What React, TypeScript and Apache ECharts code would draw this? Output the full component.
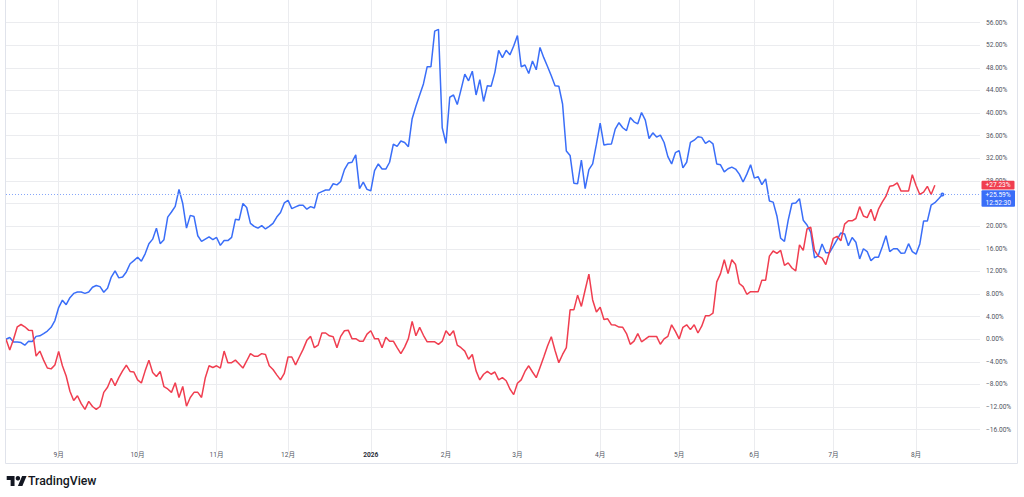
import React, { useEffect, useRef } from "react";
import * as echarts from "echarts";

// Trading-day performance (%)
const blueValues: number[] = [
  0.0, 0.3, -0.5, -0.5, -0.6, -1.05, -0.35, -0.4, 0.5, 0.6,
  1.0, 1.45, 2.1, 3.3, 5.6, 6.9, 6.1, 7.35, 8.1, 8.35,
  8.35, 8.1, 8.35, 9.2, 9.5, 9.3, 8.3, 9.0, 11.0, 12.1,
  10.85, 11.0, 11.9, 13.35, 13.9, 14.5, 13.8, 15.1, 16.9, 17.7,
  19.65, 16.9, 17.6, 21.6, 22.5, 23.5, 26.5, 24.0, 19.65, 21.9,
  21.7, 18.3, 17.3, 17.7, 18.1, 17.6, 18.0, 16.6, 17.45, 17.45,
  18.0, 21.2, 21.1, 24.0, 23.3, 20.5, 19.95, 19.65, 20.1, 19.5,
  19.95, 20.5, 21.6, 22.4, 24.1, 24.55, 23.1, 23.4, 23.7, 23.7,
  23.0, 23.45, 23.2, 25.8, 26.1, 26.4, 26.4, 27.5, 27.3, 27.9,
  30.0, 31.15, 31.3, 32.6, 26.65, 27.8, 26.5, 26.25, 29.8, 31.0,
  30.1, 30.1, 31.3, 34.5, 34.1, 35.05, 34.8, 34.05, 39.0, 41.2,
  43.2, 45.15, 48.2, 48.2, 54.5, 54.8, 37.4, 34.65, 42.8, 43.2,
  41.5, 44.15, 46.9, 45.7, 47.4, 43.2, 45.9, 42.05, 44.85, 44.75,
  47.2, 51.1, 49.8, 51.1, 50.3, 51.85, 53.7, 48.2, 48.5, 47.0,
  49.2, 47.65, 51.6, 49.8, 48.25, 46.6, 44.85, 44.75, 41.6, 33.3,
  32.5, 27.6, 27.5, 31.7, 26.65, 30.0, 31.0, 34.5, 38.2, 34.35,
  34.5, 34.55, 37.15, 38.3, 37.4, 36.9, 39.2, 38.45, 38.1, 40.1,
  38.75, 35.5, 36.5, 35.75, 36.1, 34.8, 32.3, 31.0, 33.0, 33.35,
  30.3, 31.3, 34.8, 35.2, 35.8, 35.7, 34.65, 35.1, 34.55, 31.0,
  30.85, 29.6, 30.15, 30.45, 30.1, 29.2, 27.8, 29.2, 30.85, 28.5,
  28.75, 27.35, 28.35, 24.45, 24.25, 21.8, 17.85, 17.3, 21.05, 24.0,
  24.1, 24.85, 21.05, 20.2, 18.9, 14.4, 14.8, 16.85, 15.3, 15.3,
  16.45, 17.6, 18.8, 18.6, 16.55, 18.0, 17.15, 14.2, 16.0, 15.5,
  13.9, 14.5, 14.5, 16.3, 18.3, 15.5, 16.0, 16.0, 15.2, 15.25,
  16.9, 15.5, 15.05, 16.85, 20.9, 20.9, 23.7, 24.15, 24.85, 25.59,
];

const redValues: number[] = [
  0, -1.9, 0, 2.2, 2.6, 2.2, 1.6, 1.55, -3.0, -2.1,
  -3.7, -5.1, -5.25, -4.55, -2.15, -4.7, -6.5, -9.2, -10.85, -10.0,
  -11.4, -12.4, -11.0, -11.9, -12.4, -11.9, -9.4, -8.5, -6.9, -8.2,
  -6.8, -5.6, -4.6, -5.7, -5.8, -7.2, -7.75, -5.6, -3.7, -5.9,
  -6.6, -5.7, -8.4, -8.8, -9.4, -7.7, -10.3, -8.35, -11.85, -10.3,
  -9.4, -9.4, -10.3, -6.8, -4.7, -5.0, -4.7, -5.1, -2.1, -4.15,
  -4.15, -3.7, -4.4, -5.1, -3.85, -2.55, -3.0, -3.0, -2.55, -2.7,
  -4.7, -5.35, -6.3, -7.2, -6.05, -3.15, -3.15, -4.55, -3.15, -1.8,
  -0.2, 0.5, -1.5, -1.05, 1.1, 1.1, 0.6, 0.45, -1.5, 0.5,
  1.5, 1.6, 0.1, 0.1, -0.35, -0.35, 0.9, 1.5, 0.1, 0.1,
  -1.5, 0.35, -0.35, -0.35, -1.5, -2.55, -1.4, 0.1, 3.15, 0.6,
  2.1, 0.7, -0.45, -0.45, -0.45, -0.9, -0.35, 1.5, 0.65, 1.5,
  -1.05, -1.5, -2.1, -3.55, -2.7, -5.6, -7.2, -6.2, -5.7, -6.2,
  -5.8, -7.2, -6.8, -7.35, -8.8, -9.8, -7.8, -7.2, -5.7, -4.7,
  -5.8, -6.8, -5.0, -3.15, -1.2, 0.45, -2.0, -4.15, -2.7, -1.5,
  5.2, 5.2, 7.8, 5.8, 8.7, 11.5, 6.95, 4.8, 5.65, 3.5,
  3.6, 2.55, 2.5, 2.15, 2.1, 1.0, -0.9, -0.35, 1.0, -0.45,
  0, 0.5, 0.5, 0.5, -0.9, 0.05, 0.5, 2.55, 1.4, 0.05,
  2.1, 2.55, 1.7, 2.55, 1.1, 2.3, 4.15, 4.15, 4.6, 10.15,
  11.6, 14.05, 11.6, 14.05, 13.2, 9.85, 9.3, 7.95, 8.4, 8.4,
  8.4, 10.45, 10.45, 14.7, 15.6, 15.2, 15.7, 13.05, 13.5, 12.6,
  12.1, 16.7, 15.7, 19.5, 19.8, 15.7, 14.7, 14.35, 13.2, 15.5,
  17.85, 18.2, 17.4, 20.35, 20.95, 20.95, 21.35, 23.45, 21.8, 21.5,
  23.0, 20.95, 23.0, 24.25, 25.3, 27.05, 27.2, 27.65, 26.2, 26.2,
  26.2, 29.1, 27.2, 25.6, 26.0, 27.05, 25.6, 27.23,
];

// Month boundaries (trading-day index) and their labels
const monthTickIndex: number[] = [14, 35, 56, 75, 97, 117, 136, 158, 179, 199, 220, 242];
const monthTickLabels: string[] = ["9月", "10月", "11月", "12月", "2026", "2月", "3月", "4月", "5月", "6月", "7月", "8月"];
const yearLabels: string[] = ["2026"];
const categoryCount = 260; // includes empty right margin bars
const categories: string[] = Array.from({ length: categoryCount }, (_, i) => String(i));
const blueTime = "12:52:30";

const BLUE = "#3a6ef8";
const RED = "#f03e50";
const GRID = "#ebecef";
const TEXT = "#50535e";
const FONT = "Roboto, 'Noto Sans CJK JP', sans-serif";

function fmtPct(v: number): string {
  const s = Math.abs(v).toFixed(2) + "%";
  return v < 0 ? "\u2212" + s : s;
}

export default function App() {
  const ref = useRef<HTMLDivElement>(null);

  useEffect(() => {
    if (!ref.current) return;
    const chart = echarts.init(ref.current, null, { renderer: "svg" });
    const tickSet = new Set(monthTickIndex);
    const blueLast = blueValues[blueValues.length - 1];
    const redLast = redValues[redValues.length - 1];

    const blueData: any[] = blueValues.map((v, i) =>
      i === blueValues.length - 1
        ? { value: v, symbol: "circle", symbolSize: 4, itemStyle: { color: BLUE } }
        : v
    );

    chart.setOption({
      animation: false,
      backgroundColor: "#ffffff",
      textStyle: { fontFamily: FONT },
      grid: { left: 6, right: 44, top: -4.86, height: 457.14 },
      xAxis: {
        type: "category",
        data: categories,
        boundaryGap: false,
        axisLine: { show: false },
        axisTick: { show: false },
        axisLabel: {
          interval: (index: number) => tickSet.has(index),
          formatter: (value: string) => {
            const k = monthTickIndex.indexOf(Number(value));
            if (k < 0) return "";
            const lab = monthTickLabels[k];
            return yearLabels.includes(lab) ? "{b|" + lab + "}" : lab;
          },
          color: TEXT,
          fontSize: 6.6,
          margin: -1,
          fontFamily: FONT,
          rich: { b: { fontWeight: "bold", fontSize: 6.6, color: "#2a2e39", fontFamily: FONT } },
        },
        splitLine: {
          show: true,
          interval: (index: number) => tickSet.has(index),
          lineStyle: { color: GRID, width: 1 },
        },
      },
      yAxis: {
        type: "value",
        position: "right",
        min: -20,
        max: 60,
        interval: 4,
        axisLine: { show: false },
        axisTick: { show: false },
        axisLabel: {
          showMinLabel: false,
          showMaxLabel: false,
          formatter: (v: number) => fmtPct(v),
          color: TEXT,
          fontSize: 6.6,
          margin: 6,
          fontFamily: FONT,
        },
        splitLine: {
          show: true,
          showMinLine: false,
          showMaxLine: false,
          lineStyle: { color: GRID, width: 1 },
        },
      },
      series: [
        {
          type: "line",
          data: blueData,
          symbol: "none",
          showAllSymbol: true,
          lineStyle: { color: BLUE, width: 1.5 },
          itemStyle: { color: BLUE },
          z: 3,
          markLine: {
            silent: true,
            symbol: "none",
            label: { show: false },
            lineStyle: { color: "#86a6f9", type: [1, 2], width: 1 },
            data: [{ yAxis: blueLast }],
          },
        },
        {
          type: "line",
          data: redValues,
          symbol: "none",
          lineStyle: { color: RED, width: 1.5 },
          itemStyle: { color: RED },
          z: 4,
        },
      ],
    });

    const yR = chart.convertToPixel({ yAxisIndex: 0 }, redLast) as number;
    const yB = chart.convertToPixel({ yAxisIndex: 0 }, blueLast) as number;
    const blueTop = yB - 4.3;
    const blueBottom = yB + 12.3;
    const border = "#e0e3eb";
    const badgeX = 981.5;

    // scale labels hidden behind the two-line last-value badge
    chart.setOption({
      yAxis: {
        axisLabel: {
          formatter: (v: number) => {
            const py = chart.convertToPixel({ yAxisIndex: 0 }, v) as number;
            if (py > blueTop - 1 && py < blueBottom + 1) return "";
            return fmtPct(v);
          },
        },
      },
    });

    chart.setOption({
      graphic: [
        { id: "bl", type: "line", z: 100, shape: { x1: 5.5, y1: 0, x2: 5.5, y2: 463.5 }, style: { stroke: border, lineWidth: 1 } },
        { id: "bb", type: "line", z: 100, shape: { x1: 5.5, y1: 463.5, x2: 1017.5, y2: 463.5 }, style: { stroke: border, lineWidth: 1 } },
        { id: "br", type: "line", z: 100, shape: { x1: 1017.5, y1: 0, x2: 1017.5, y2: 463.5 }, style: { stroke: border, lineWidth: 1 } },
        { id: "rr", type: "rect", z: 101, shape: { x: badgeX, y: yR - 4.4, width: 33, height: 8.6, r: 1 }, style: { fill: RED } },
        {
          id: "rt", type: "text", z: 102,
          style: { text: "+" + redLast.toFixed(2) + "%", x: 985.5, y: yR, fill: "#ffffff", font: "6.6px Roboto", verticalAlign: "middle", align: "left" },
        },
        { id: "br2", type: "rect", z: 101, shape: { x: badgeX, y: blueTop, width: 33.5, height: blueBottom - blueTop, r: 1 }, style: { fill: BLUE } },
        {
          id: "bt1", type: "text", z: 102,
          style: { text: "+" + blueLast.toFixed(2) + "%", x: 985.5, y: yB, fill: "#ffffff", font: "6.6px Roboto", verticalAlign: "middle", align: "left" },
        },
        {
          id: "bt2", type: "text", z: 102,
          style: { text: blueTime, x: 985.5, y: yB + 8.1, fill: "#ffffff", font: "6.6px Roboto", verticalAlign: "middle", align: "left" },
        },
        {
          id: "logo", type: "group", x: 6.7, y: 473.8, scaleX: 0.56, scaleY: 0.56, z: 100,
          children: [
            { type: "polygon", shape: { points: [[0, 4], [14, 4], [14, 22], [7, 22], [7, 11], [0, 11]] }, style: { fill: "#131722" } },
            { type: "circle", shape: { cx: 20, cy: 8, r: 4 }, style: { fill: "#131722" } },
            { type: "polygon", shape: { points: [[20, 22], [28, 22], [35.5, 4], [27.5, 4]] }, style: { fill: "#131722" } },
          ],
        },
        {
          id: "logoText", type: "text", z: 100,
          style: { text: "TradingView", x: 28, y: 480.8, fill: "#131722", font: "500 12.3px Roboto", verticalAlign: "middle", align: "left" },
        },
      ],
    });

    return () => chart.dispose();
  }, []);

  return (
    <div
      ref={ref}
      style={{ position: "absolute", left: 0, top: 0, width: 1024, height: 497 }}
    />
  );
}
